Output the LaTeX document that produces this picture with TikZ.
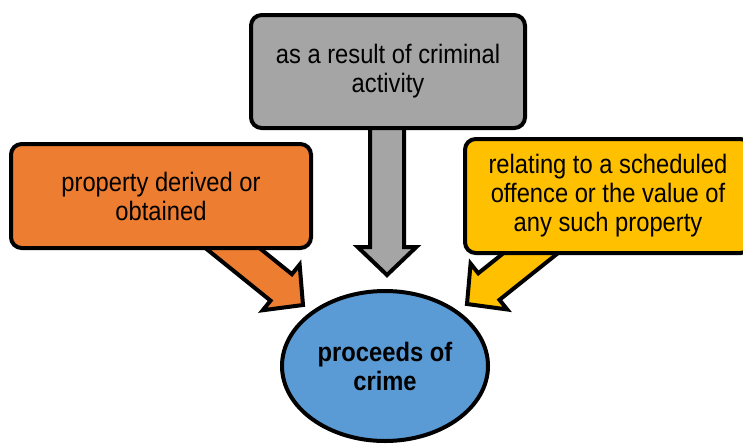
\documentclass[tikz,border=0pt]{standalone}
\usepackage{fontspec}
\setmainfont{Liberation Sans}[FakeStretch=0.89]
\usetikzlibrary{calc,shapes.geometric,backgrounds}

\definecolor{causegray}{HTML}{A5A5A5}
\definecolor{causeorange}{HTML}{ED7D31}
\definecolor{causeyellow}{HTML}{FFC000}
\definecolor{resultblue}{HTML}{5B9BD5}

% block-arrow dimensions
\newcommand\baShaft{12.75pt}
\newcommand\baHead{22pt}
\newcommand\baLen{21pt}

% \blockarrow{tail}{tip}{fill colour}
\newcommand\blockarrow[3]{%
  \path ($(#2)!\baLen!(#1)$) coordinate (#1-hb);
  \filldraw[arrowbody, fill=#3]
    ($(#1)!\baShaft!90:(#2)$) -- ($(#1-hb)!\baShaft!90:(#2)$)
    -- ($(#1-hb)!\baHead!90:(#2)$) -- (#2)
    -- ($(#1-hb)!\baHead!-90:(#2)$) -- ($(#1-hb)!\baShaft!-90:(#2)$)
    -- ($(#1)!\baShaft!-90:(#2)$) -- cycle;
}

\tikzset{
  outline/.style={draw=black, line width=3pt},
  arrowbody/.style={outline},
  causebox/.style={outline, rectangle, rounded corners=8pt, inner sep=0pt,
    align=center, font=\fontsize{20}{21.75}\selectfont},
  resultnode/.style={outline, ellipse, inner sep=0pt, fill=resultblue,
    align=center, font=\fontsize{20}{21.75}\selectfont\bfseries},
}

\begin{document}
\begin{tikzpicture}[x=0.75pt, y=-0.75pt]
  \useasboundingbox (0,0) rectangle (743,444);
  \clip (0,0) rectangle (743,444);

  \node[causebox, fill=causegray, minimum width=205.5pt, minimum height=84.75pt]
    (activity) at (388,71.5) {as a result of criminal\\activity};
  \node[causebox, fill=causeorange, minimum width=225pt, minimum height=78pt]
    (property) at (161,196) {property derived or\\obtained};
  \node[causebox, fill=causeyellow, minimum width=214.5pt, minimum height=85.5pt]
    (offence) at (608,196) {relating to a scheduled\\offence or the value of\\any such property};
  \node[resultnode, minimum width=154.5pt, minimum height=112.5pt]
    (crime) at (385,366) {proceeds of\\crime};

  \coordinate (activity-tail) at (387,118);
  \coordinate (activity-tip)  at (387,275);
  \coordinate (property-tail) at (194,217);
  \coordinate (property-tip)  at (303,305);
  \coordinate (offence-tail)  at (576,217);
  \coordinate (offence-tip)   at (467,304);

  \begin{scope}[on background layer]
    \blockarrow{activity-tail}{activity-tip}{causegray}
    \blockarrow{property-tail}{property-tip}{causeorange}
    \blockarrow{offence-tail}{offence-tip}{causeyellow}
  \end{scope}
\end{tikzpicture}
\end{document}
